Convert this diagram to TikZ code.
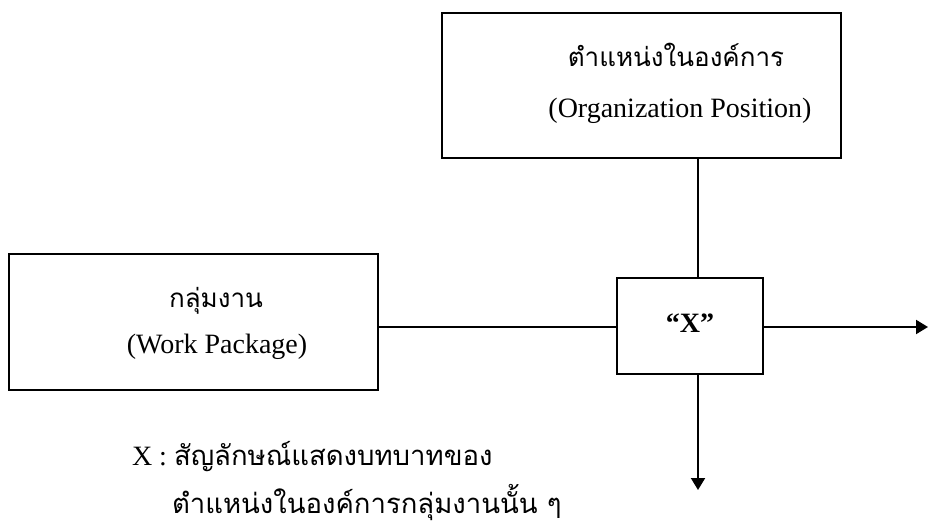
\documentclass[tikz,border=0pt]{standalone}
\usepackage{fontspec}
\setmainfont{Liberation Serif}
\newfontfamily\thaifont[Script=Thai]{Loma}
\usetikzlibrary{arrows.meta,positioning}
\tikzset{
	box/.style={draw, line width=2pt, inner sep=0, outer sep=0},
	lab/.style={inner sep=0, outer sep=0, anchor=base, font=\fontsize{28}{32}\selectfont},
	thlab/.style={inner sep=0, outer sep=0, anchor=base, font=\thaifont\fontsize{26}{30}\selectfont},
	keylab/.style={inner sep=0, outer sep=0, anchor=base west, font=\thaifont\fontsize{27.5}{30}\selectfont},
	link/.style={line width=2pt},
	tip/.style={line width=2pt, -{Triangle[length=12pt,width=14pt]}}
}
\begin{document}
\begin{tikzpicture}[x=1pt, y=1pt]
	\useasboundingbox (0,0) rectangle (928,528);
	% boxes
	\node[box, minimum width=399, minimum height=145] (orgbox) at (641.5, 442.5) {};
	\node[box, minimum width=369, minimum height=136] (wpbox) at (193.5, 206) {};
	\node[box, minimum width=146, minimum height=96] (xbox) at (690, 202) {};
	% texts
	\node[thlab] (orgth) at (676, 461) {ตำแหน่งในองค์การ};
	\node[lab] (orgen) at (680, 410) {(Organization Position)};
	\node[thlab] (wpth) at (216, 221) {กลุ่มงาน};
	\node[lab] (wpen) at (217, 175) {(Work Package)};
	\node[lab, font=\bfseries\fontsize{28}{32}\selectfont] (xlab) at (690, 196) {“X”};
	\node[lab, anchor=base west] (keyone) at (132, 63) {X : {\thaifont\fontsize{27.5}{30}\selectfont สัญลักษณ์แสดงบทบาทของ}};
	\node[keylab] (keytwo) at (172, 15) {ตำแหน่งในองค์การกลุ่มงานนั้น ๆ};
	% connectors
	\coordinate (vline) at (698, 0);
	\coordinate (eastend) at (928, 201);
	\coordinate (southend) at (698, 38);
	\draw[link] (orgbox.south -| vline) -- (xbox.north -| vline);
	\draw[link] (wpbox.east |- eastend) -- (xbox.west |- eastend);
	\draw[tip] (xbox.east |- eastend) -- (eastend);
	\draw[tip] (xbox.south -| vline) -- (southend);
\end{tikzpicture}
\end{document}
